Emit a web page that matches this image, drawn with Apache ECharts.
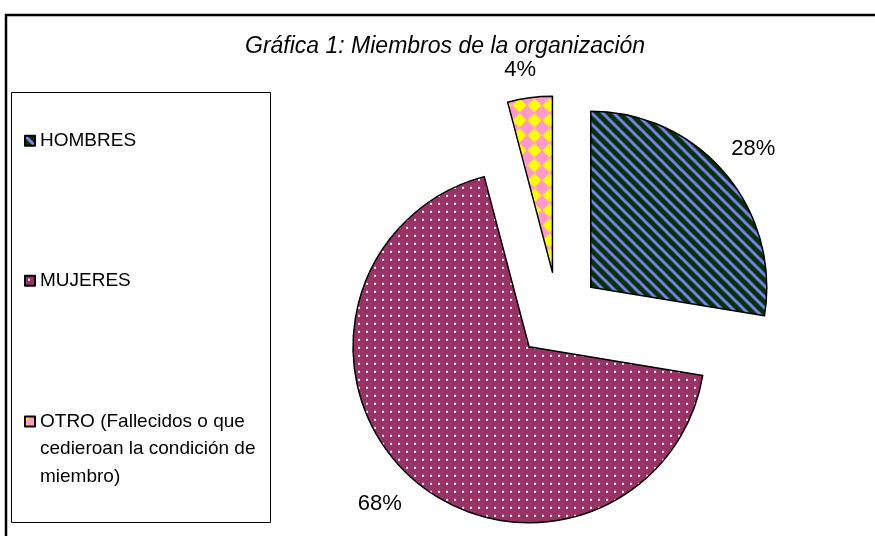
<!DOCTYPE html>
<html>
<head>
<meta charset="utf-8">
<script src="https://cdn.jsdelivr.net/npm/echarts@6/dist/echarts.min.js"></script>
<style>
  html, body { margin: 0; padding: 0; background: #fff; }
  #chart { width: 875px; height: 536px; }
</style>
</head>
<body>
<div id="chart"></div>
<script>
const TITLE = "Gráfica 1: Miembros de la organización";
const CATEGORIES = [
  "HOMBRES",
  "MUJERES",
  "OTRO (Fallecidos o que cedieroan la condición de miembro)"
];
// porcentajes (los rotulos redondean a 28 / 68 / 4)
const VALUES = [27.6, 68.3, 4.1];

const FONT = "'Liberation Sans', Arial, sans-serif";

function makeTile(size, draw, offset) {
  const c = document.createElement("canvas");
  c.width = size;
  c.height = size;
  draw(c.getContext("2d"), size);
  const pattern = { image: c, repeat: "repeat" };
  if (offset) {
    pattern.x = offset[0];
    pattern.y = offset[1];
  }
  return pattern;
}

// rayas diagonales verde oscuro / azul lavanda
const stripes = makeTile(11, (ctx, s) => {
  ctx.fillStyle = "#003300";
  ctx.fillRect(0, 0, s, s);
  ctx.strokeStyle = "#8080f8";
  ctx.lineWidth = 3;
  [-s, 0, s].forEach((k) => {
    ctx.beginPath();
    ctx.moveTo(k - 2, -2);
    ctx.lineTo(k + s + 2, s + 2);
    ctx.stroke();
  });
});

// granate con puntitos blancos
const dots = makeTile(8, (ctx, s) => {
  ctx.fillStyle = "#993366";
  ctx.fillRect(0, 0, s, s);
  ctx.fillStyle = "#ffffff";
  ctx.fillRect(3, 3, 2, 2);
});

// rombos amarillos sobre rosa
const diamonds = makeTile(15, (ctx, s) => {
  ctx.fillStyle = "#ff99cc";
  ctx.fillRect(0, 0, s, s);
  ctx.fillStyle = "#ffff00";
  ctx.beginPath();
  ctx.moveTo(s / 2, 0.5);
  ctx.lineTo(s - 0.5, s / 2);
  ctx.lineTo(s / 2, s - 0.5);
  ctx.lineTo(0.5, s / 2);
  ctx.closePath();
  ctx.fill();
}, [-7.5, 5.5]);

const FILLS = [stripes, dots, diamonds];
// distancia del rotulo al borde de cada porcion
const LABEL_GAP = [37, 37, 28];
const LABEL_SHIFT = [0, 6, 6];

const chart = echarts.init(document.getElementById("chart"), null, { renderer: "canvas" });

chart.setOption({
  animation: false,
  backgroundColor: "#fff",
  title: {
    text: TITLE,
    left: 245,
    top: 33,
    padding: 0,
    textStyle: {
      fontFamily: FONT,
      fontSize: 23,
      fontStyle: "italic",
      fontWeight: "normal",
      color: "#000",
      lineHeight: 28
    }
  },
  graphic: [
    {
      type: "rect",
      silent: true,
      shape: { x: 6, y: 15, width: 900, height: 560 },
      style: { fill: null, stroke: "#000", lineWidth: 2.5 }
    },
    {
      type: "rect",
      silent: true,
      shape: { x: 11.5, y: 92.5, width: 259, height: 430 },
      style: { fill: null, stroke: "#000", lineWidth: 1 }
    }
  ],
  legend: [
    {
      data: CATEGORIES.slice(0, 2),
      orient: "vertical",
      left: 24,
      top: 127,
      padding: 0,
      itemGap: 112.5,
      itemWidth: 10,
      itemHeight: 10,
      selectedMode: false,
      icon: "rect",
      textStyle: { fontFamily: FONT, fontSize: 19, color: "#000", lineHeight: 27.5 }
    },
    {
      // dos lineas vacias delante para que el icono quede a la altura de la primera linea
      data: CATEGORIES.slice(2),
      orient: "vertical",
      left: 24,
      top: 352.75,
      padding: 0,
      itemWidth: 10,
      itemHeight: 10,
      selectedMode: false,
      icon: "rect",
      formatter: (name) => "\n\n" + name,
      textStyle: {
        fontFamily: FONT,
        fontSize: 19,
        color: "#000",
        lineHeight: 27.5,
        width: 232,
        overflow: "break"
      }
    }
  ],
  series: [
    {
      type: "pie",
      center: [558, 315],
      radius: 176,
      startAngle: 90,
      clockwise: true,
      selectedMode: "multiple",
      selectedOffset: 43,
      percentPrecision: 0,
      avoidLabelOverlap: false,
      itemStyle: { borderColor: "#000", borderWidth: 1.5 },
      select: { itemStyle: { borderColor: "#000", borderWidth: 1.5 } },
      emphasis: { disabled: true },
      label: {
        show: true,
        position: "outside",
        formatter: "{d}%",
        fontFamily: FONT,
        fontSize: 22,
        color: "#000",
        distanceToLabelLine: 0
      },
      labelLine: { show: false, length: 37, length2: 0 },
      labelLayout: { align: "center", verticalAlign: "middle" },
      data: CATEGORIES.map((name, i) => ({
        name,
        value: VALUES[i],
        selected: true,
        itemStyle: { color: FILLS[i] },
        labelLine: { show: false, length: LABEL_GAP[i], length2: LABEL_SHIFT[i] }
      }))
    }
  ]
});
</script>
</body>
</html>
